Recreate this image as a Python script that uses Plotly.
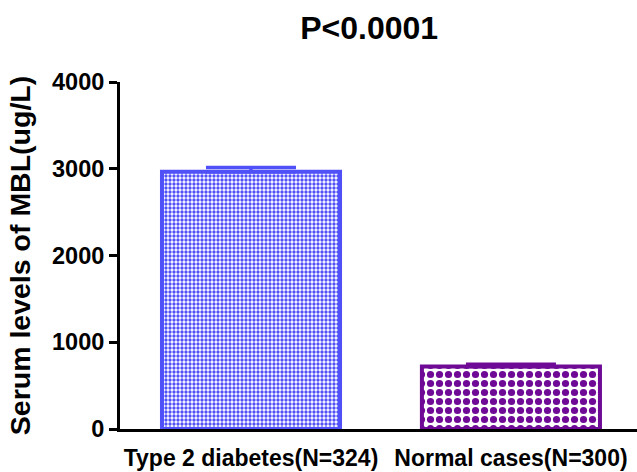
import plotly.graph_objects as go

categories = ["Type 2 diabetes(N=324)", "Normal cases(N=300)"]
means = [2965, 720]
sems = [50, 25]
tick_vals = [0, 1000, 2000, 3000, 4000]
title_text = "P<0.0001"
y_title = "Serum levels of MBL(ug/L)"

colors = ["#5050f8", "#6e0a96"]
pat_sizes = [4, 9]
pat_solid = [0.55, 0.5]

fig = go.Figure()
for i, (c, m, s) in enumerate(zip(categories, means, sems)):
    fig.add_trace(go.Bar(
        x=[i], y=[m], width=0.685,
        marker=dict(
            color="white",
            line=dict(color=colors[i], width=4),
            pattern=dict(shape=".", fgcolor=colors[i], bgcolor="white",
                         size=pat_sizes[i], solidity=pat_solid[i], fillmode="replace"),
        ),
        error_y=dict(type="data", symmetric=False, array=[s], arrayminus=[0],
                     color=colors[i], thickness=3.5, width=45),
        showlegend=False,
    ))

font_fam = "Liberation Sans, Arial, sans-serif"
fig.update_layout(
    width=637, height=472,
    margin=dict(l=120, r=0, t=82, b=43),
    plot_bgcolor="white", paper_bgcolor="white",
    title=dict(text=title_text, x=0.482, xref="paper", y=1 - 28 / 472, yref="container",
               xanchor="center", yanchor="middle",
               font=dict(family=font_fam, size=32, color="black", weight="bold")),
    xaxis=dict(
        range=[-0.504, 1.485], tickvals=[0, 1], ticktext=categories,
        showline=True, linecolor="black", linewidth=3, ticks="",
        ticklabelstandoff=6,
        showgrid=False, zeroline=False,
        tickfont=dict(family=font_fam, size=23, color="black", weight="bold"),
    ),
    yaxis=dict(
        range=[0, 4000], tickvals=tick_vals,
        showline=True, linecolor="black", linewidth=3,
        ticks="outside", ticklen=8, tickwidth=3, tickcolor="black",
        showgrid=False, zeroline=False,
        tickfont=dict(family=font_fam, size=23.5, color="black", weight="bold"),
        title=dict(text=y_title, standoff=14,
                   font=dict(family=font_fam, size=28.5, color="black", weight="bold")),
    ),
)

fig.write_html("out.html")
